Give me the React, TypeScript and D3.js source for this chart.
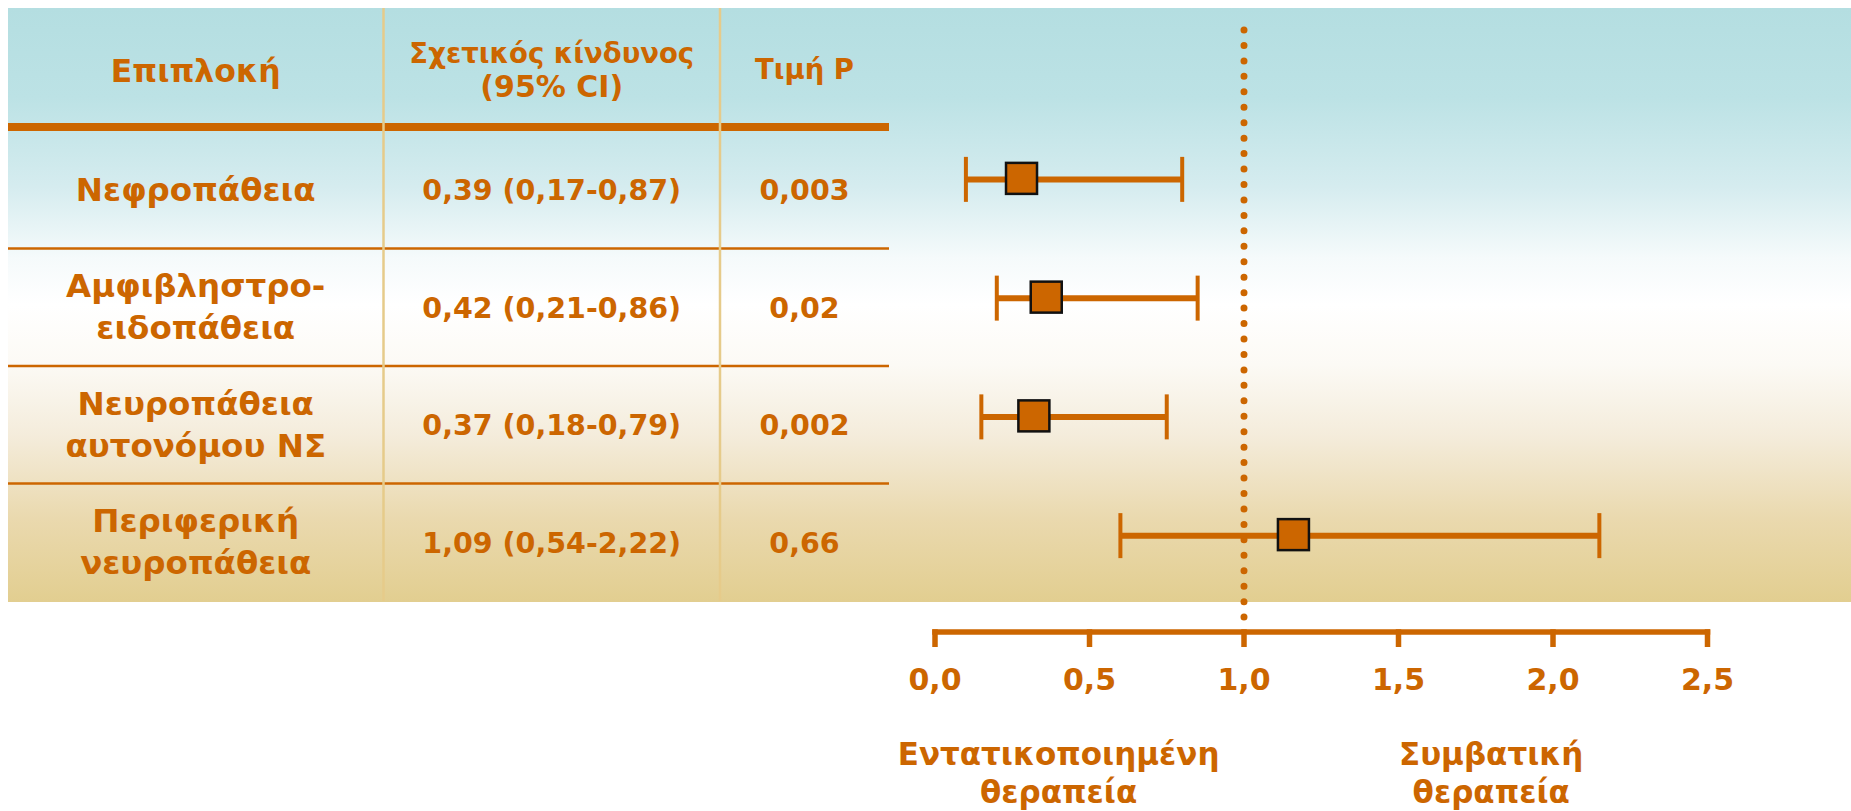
import React, { useEffect, useRef } from "react";
import * as d3 from "d3";

const complications: string[][] = [
  ["Νεφροπάθεια"],
  ["Αμφιβληστρο-", "ειδοπάθεια"],
  ["Νευροπάθεια", "αυτονόμου ΝΣ"],
  ["Περιφερική", "νευροπάθεια"],
];
const rrLabels = ["0,39 (0,17-0,87)", "0,42 (0,21-0,86)", "0,37 (0,18-0,79)", "1,09 (0,54-2,22)"];
const pValues = ["0,003", "0,02", "0,002", "0,66"];
const estimates = [0.28, 0.36, 0.32, 1.16];
const lows = [0.1, 0.2, 0.15, 0.6];
const highs = [0.8, 0.85, 0.75, 2.15];
const xTicks = [0, 0.5, 1, 1.5, 2, 2.5];
const refValue = 1;
const headers = [["Επιπλοκή"], ["Σχετικός κίνδυνος", "(95% CI)"], ["Τιμή P"]];
const favourLabels = [
  { value: 0.4, lines: ["Εντατικοποιημένη", "θεραπεία"] },
  { value: 1.8, lines: ["Συμβατική", "θεραπεία"] },
];

const ORANGE = "#CC6600";
const FONT = "'DejaVu Sans', Verdana, sans-serif";

export default function App() {
  const ref = useRef<SVGSVGElement>(null);

  useEffect(() => {
    const svg = d3.select(ref.current);
    svg.selectAll("*").remove();

    const W = 1851;
    const bgTop = 8, bgBottom = 602, bgLeft = 8;
    const tableRight = 889;
    const colEdges = [bgLeft, 383.5, 720, tableRight];
    const headerLineY = 127;

    const defs = svg.append("defs");
    const grad = defs.append("linearGradient").attr("id", "bg").attr("x1", 0).attr("y1", 0).attr("x2", 0).attr("y2", 1);
    const stops: [number, string][] = [
      [0, "#B4DEE1"], [0.15, "#BCE2E5"], [0.3, "#D5ECEF"], [0.42, "#F5FAFB"], [0.5, "#FFFFFF"],
      [0.6, "#FCFAF5"], [0.72, "#F4ECDB"], [0.86, "#EAD9AE"], [1, "#E2CE90"],
    ];
    stops.forEach(([o, c]) => grad.append("stop").attr("offset", o).attr("stop-color", c));

    svg.append("rect").attr("x", bgLeft).attr("y", bgTop).attr("width", W - bgLeft).attr("height", bgBottom - bgTop).attr("fill", "url(#bg)");

    const idx = d3.range(complications.length);
    const yRow = d3.scaleBand<number>().domain(idx).range([131, 601]);
    const yPlot = d3.scaleBand<number>().domain(idx).range([120, 595]);
    const x = d3.scaleLinear().domain([0, 2.5]).range([935, 1707.5]);
    const colCenter = (i: number) => (colEdges[i] + colEdges[i + 1]) / 2;

    // header line
    svg.append("line").attr("x1", bgLeft).attr("x2", tableRight).attr("y1", headerLineY).attr("y2", headerLineY)
      .attr("stroke", ORANGE).attr("stroke-width", 8);
    // row separators
    idx.slice(1).forEach((i) => {
      const y = yRow(i)!;
      svg.append("line").attr("x1", bgLeft).attr("x2", tableRight).attr("y1", y).attr("y2", y)
        .attr("stroke", ORANGE).attr("stroke-width", 2.5);
    });
    // column lines
    [colEdges[1], colEdges[2]].forEach((cx) => {
      svg.append("line").attr("x1", cx).attr("x2", cx).attr("y1", bgTop).attr("y2", bgBottom - 1)
        .attr("stroke", "#E6CB8A").attr("stroke-width", 2.5);
    });

    const text = (g: any, xx: number, yy: number, s: string, size: number) =>
      g.append("text").attr("x", xx).attr("y", yy).attr("text-anchor", "middle")
        .attr("font-family", FONT).attr("font-weight", "bold").attr("font-size", size)
        .attr("fill", ORANGE).text(s);

    // headers
    text(svg, colCenter(0), 82, headers[0][0], 31.5);
    text(svg, colCenter(1), 62.5, headers[1][0], 27.5);
    text(svg, colCenter(1), 97, headers[1][1], 30);
    text(svg, colCenter(2), 79, headers[2][0], 27.5);

    // rows
    idx.forEach((i) => {
      const c = yRow(i)! + yRow.bandwidth() / 2;
      const lines = complications[i];
      lines.forEach((s, j) => {
        text(svg, colCenter(0), c + 11 + (j - (lines.length - 1) / 2) * 42, s, 32.5);
      });
      text(svg, colCenter(1), c + 10.5, rrLabels[i], 28.5);
      text(svg, colCenter(2), c + 10.5, pValues[i], 28.5);
    });

    // reference dotted line
    svg.append("line").attr("x1", x(refValue)).attr("x2", x(refValue)).attr("y1", 30).attr("y2", 618)
      .attr("stroke", ORANGE).attr("stroke-width", 7).attr("stroke-linecap", "round")
      .attr("stroke-dasharray", "0 15.45");

    // axis
    const axisY = 632;
    svg.append("line").attr("x1", x(0) - 2.75).attr("x2", x(2.5) + 2.75).attr("y1", axisY).attr("y2", axisY)
      .attr("stroke", ORANGE).attr("stroke-width", 5.5);
    xTicks.forEach((t) => {
      svg.append("line").attr("x1", x(t)).attr("x2", x(t)).attr("y1", axisY - 2.75).attr("y2", 647)
        .attr("stroke", ORANGE).attr("stroke-width", 5.5);
      text(svg, x(t), 690, d3.format(".1f")(t).replace(".", ","), 30);
    });

    favourLabels.forEach((f) => {
      f.lines.forEach((s, j) => text(svg, x(f.value), 765 + j * 38, s, 31));
    });

    // error bars
    const capH = 45;
    idx.forEach((i) => {
      const c = yPlot(i)! + yPlot.bandwidth() / 2;
      const g = svg.append("g");
      g.append("line").attr("x1", x(lows[i])).attr("x2", x(highs[i])).attr("y1", c).attr("y2", c)
        .attr("stroke", ORANGE).attr("stroke-width", 6);
      [lows[i], highs[i]].forEach((v) => {
        g.append("line").attr("x1", x(v)).attr("x2", x(v)).attr("y1", c - capH / 2).attr("y2", c + capH / 2)
          .attr("stroke", ORANGE).attr("stroke-width", 4);
      });
      const s = 31;
      g.append("rect").attr("x", x(estimates[i]) - s / 2).attr("y", c - s / 2 - 1).attr("width", s).attr("height", s)
        .attr("fill", ORANGE).attr("stroke", "#111").attr("stroke-width", 2.5);
    });
  }, []);

  return (
    <svg ref={ref} width={1851} height={811}
      style={{ position: "absolute", left: 0, top: 0, display: "block", background: "#fff" }} />
  );
}
